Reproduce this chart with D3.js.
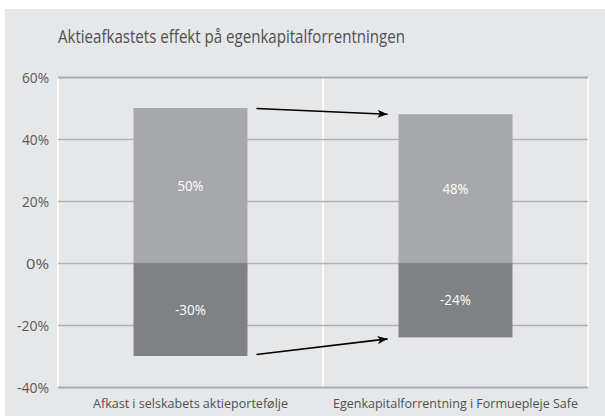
<!DOCTYPE html>
<html>
<head>
<meta charset="utf-8">
<script src="https://cdn.jsdelivr.net/npm/d3@7"></script>
<style>
html,body{margin:0;padding:0;background:#fff;}
svg{display:block;}
text{font-family:"Open Sans","DejaVu Sans Condensed",sans-serif;}
</style>
</head>
<body>
<svg id="chart" width="605" height="416"></svg>
<script>
const title = "Aktieafkastets effekt på egenkapitalforrentningen";
const categories = ["Afkast i selskabets aktieportefølje", "Egenkapitalforrentning i Formuepleje Safe"];
const positiveValues = [50, 48];
const negativeValues = [-30, -24];
const tickValues = [-40, -20, 0, 20, 40, 60];
const tickLabels = ["-40%", "-20%", "0%", "20%", "40%", "60%"];

const svg = d3.select("#chart");
const W = 605, H = 416;
const plot = {left: 58, right: 588, top: 77, bottom: 387};

svg.append("rect").attr("x", 5).attr("y", 9).attr("width", W - 5).attr("height", H - 9).attr("fill", "#e6e7e9");

const x = d3.scaleBand().domain(categories).range([plot.left, plot.right]).paddingInner(0.57).paddingOuter(0.285);
const y = d3.scaleLinear().domain([-40, 60]).range([plot.bottom, plot.top]);

const sepX = [plot.left, (plot.left + plot.right) / 2, plot.right];
svg.selectAll("line.sep").data(sepX).enter().append("line")
  .attr("x1", d => d).attr("x2", d => d)
  .attr("y1", plot.top).attr("y2", plot.bottom)
  .attr("stroke", "#ffffff").attr("stroke-width", 1.5);

const yAxis = d3.axisLeft(y).tickValues(tickValues).tickSize(-(plot.right - plot.left))
  .tickFormat((d, i) => tickLabels[i]);
const ga = svg.append("g").attr("transform", `translate(${plot.left},0)`).call(yAxis);
ga.select(".domain").remove();
ga.selectAll(".tick line")
  .attr("stroke", d => (d === 60 || d === -40) ? "#a6acba" : "#b1b2b4")
  .attr("stroke-width", d => (d === 60 || d === -40) ? 2 : 1.6);
const tw = {"-40%": 32, "-20%": 32, "0%": 23, "20%": 27, "40%": 27, "60%": 27};
ga.selectAll(".tick text")
  .attr("x", -9).attr("dy", "0.36em")
  .attr("fill", "#5a5a5c").attr("font-size", 14.5).style("font-family", "'Open Sans',sans-serif")
  .attr("textLength", (d, i) => tw[tickLabels[tickValues.indexOf(d)]]).attr("lengthAdjust", "spacingAndGlyphs");

svg.selectAll("rect.pos").data(positiveValues).enter().append("rect")
  .attr("x", (d, i) => x(categories[i])).attr("width", x.bandwidth())
  .attr("y", d => y(d)).attr("height", d => y(0) - y(d))
  .attr("fill", "#a7a8ab");
svg.selectAll("rect.neg").data(negativeValues).enter().append("rect")
  .attr("x", (d, i) => x(categories[i])).attr("width", x.bandwidth())
  .attr("y", y(0)).attr("height", d => y(d) - y(0))
  .attr("fill", "#808184");

const labelAll = positiveValues.concat(negativeValues);
svg.selectAll("text.bl").data(labelAll).enter().append("text")
  .attr("x", (d, i) => x(categories[i % 2]) + x.bandwidth() / 2)
  .attr("y", d => (y(d) + y(0)) / 2).attr("dy", "0.36em")
  .attr("text-anchor", "middle").attr("fill", "#ffffff").attr("font-size", 14.5)
  .attr("textLength", d => d < 0 ? 31 : 26).attr("lengthAdjust", "spacingAndGlyphs")
  .text(d => d + "%");

const defs = svg.append("defs");
defs.append("marker").attr("id", "ah").attr("viewBox", "0 0 10 8").attr("refX", 10).attr("refY", 4)
  .attr("markerWidth", 10).attr("markerHeight", 8).attr("markerUnits", "userSpaceOnUse").attr("orient", "auto")
  .append("path").attr("d", "M0,0 L10,4 L0,8 L2.5,4 Z").attr("fill", "#000");
const x0 = x(categories[0]) + x.bandwidth() + 9;
const x1 = x(categories[1]) - 11;
const arrows = [[positiveValues[0], positiveValues[1]], [negativeValues[0], negativeValues[1]]];
svg.selectAll("line.arrow").data(arrows).enter().append("line")
  .attr("x1", x0).attr("x2", x1)
  .attr("y1", d => y(d[0]) + (d[0] > 0 ? 0.5 : -1.5))
  .attr("y2", d => y(d[1]) + (d[1] > 0 ? 0 : 1.5))
  .attr("stroke", "#000").attr("stroke-width", 1.6).attr("marker-end", "url(#ah)");

svg.append("text").attr("x", 58).attr("y", 43).attr("fill", "#505052").attr("font-size", 18)
  .attr("textLength", 347).attr("lengthAdjust", "spacingAndGlyphs").text(title);

const catWidths = [195, 245];
svg.selectAll("text.cat").data(categories).enter().append("text")
  .attr("x", (d, i) => x(d) + x.bandwidth() / 2 - catWidths[i] / 2)
  .attr("y", 408).attr("fill", "#505052").attr("font-size", 13.5)
  .attr("textLength", (d, i) => catWidths[i]).attr("lengthAdjust", "spacingAndGlyphs")
  .text(d => d);
</script>
</body>
</html>
